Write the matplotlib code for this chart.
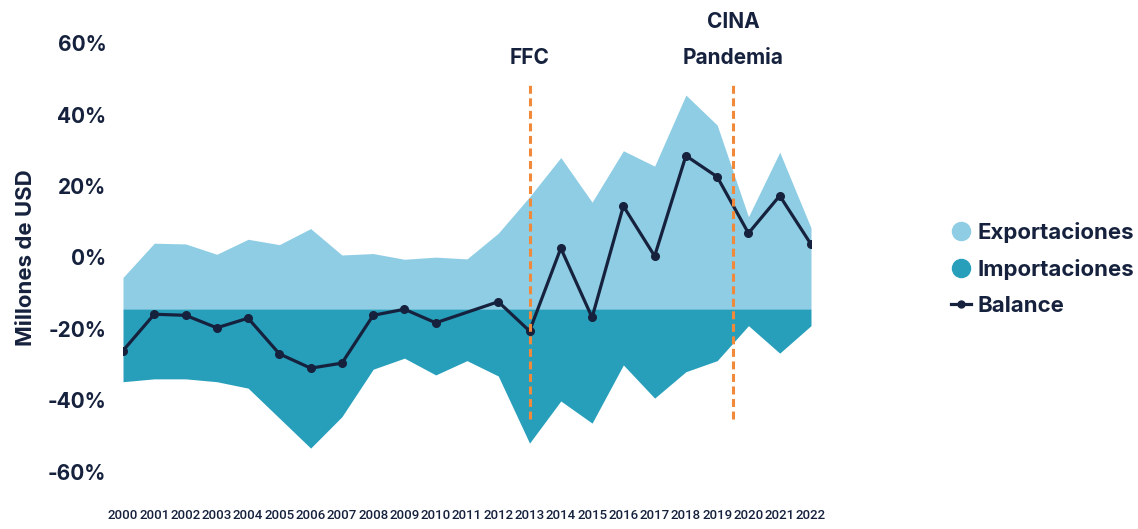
import numpy as np
import matplotlib.pyplot as plt
from matplotlib.lines import Line2D

# annual figures, % scale of the chart
years = list(range(2000, 2023))
exportaciones = [-5.6, 4.0, 3.8, 0.9, 5.1, 3.6, 8.1, 0.7, 1.1, -0.5, 0.1, -0.4, 6.8,
                 17.0, 28.0, 15.5, 29.9, 25.6, 45.5, 37.1, 11.4, 29.5, 8.3]
importaciones = [-34.8, -34.0, -34.0, -34.8, -36.6, -45.0, -53.4, -44.6, -31.3, -28.2, -32.9, -28.9, -33.2,
                 -52.0, -40.2, -46.4, -30.1, -39.4, -32.0, -28.9, -19.1, -26.8, -19.1]
balance = [-26.1, -15.9, -16.2, -19.7, -17.0, -27.0, -31.0, -29.6, -16.2, -14.5, -18.3, None, -12.4,
           -20.6, 2.6, -16.8, 14.4, 0.4, 28.5, 22.6, 6.8, 17.3, 3.7]
base = -14.4

eventos = [(2013, ['FFC']), (2019.5, ['CINA', 'Pandemia'])]

c_exp = '#8ECDE4'
c_imp = '#279FBB'
navy = '#16223D'
orange = '#F0893A'

plt.rcParams['font.family'] = ['Inter', 'DejaVu Sans']

fig = plt.figure(figsize=(11.38, 5.29), dpi=100)
ax = fig.add_axes([123 / 1138, 0.0949, (811 - 123) / 1138, 0.8367])

x = np.array(years)
ax.fill_between(x, base, exportaciones, color=c_exp, lw=0)
ax.fill_between(x, importaciones, base, color=c_imp, lw=0)

# balance line skips the missing year
bx = [y for y, b in zip(years, balance) if b is not None]
by = [b for b in balance if b is not None]
ax.plot(bx, by, color=navy, lw=2.3, marker='o', markersize=5.5, zorder=3)

for xe, labels in eventos:
    ax.plot([xe, xe], [-45.2, 48.9], color=orange, lw=2.2, linestyle=(0, (2.6, 1.5)), zorder=4)
    for i, t in enumerate(reversed(labels)):
        ax.text(xe, 55.9 + i * 10.1, t, ha='center', va='center', fontsize=15,
                fontweight='bold', color=navy)

ax.set_xlim(2000, 2022)
ax.set_ylim(-62, 62)
ax.set_yticks([-60, -40, -20, 0, 20, 40, 60])
ax.set_yticklabels(['-60%', '-40%', '-20%', '0%', '20%', '40%', '60%'],
                   fontsize=15, fontweight='bold', color=navy)
ax.set_xticks(years)
ax.set_xticklabels([str(y) for y in years], fontsize=9.5, color=navy,
                   family=['Roboto', 'DejaVu Sans'], fontweight='medium')
ax.tick_params(axis='y', length=0, pad=12)
ax.tick_params(axis='x', length=0, pad=22)
for s in ax.spines.values():
    s.set_visible(False)
ax.set_ylabel('Millones de USD', fontsize=16, fontweight='bold', color=navy, labelpad=8)

handles = [
    Line2D([], [], color=c_exp, marker='o', lw=0, markersize=13),
    Line2D([], [], color=c_imp, marker='o', lw=0, markersize=13),
    Line2D([], [], color=navy, marker='o', lw=2.3, markersize=5),
]
leg = fig.legend(handles, ['Exportaciones', 'Importaciones', 'Balance'],
                 loc='center left', bbox_to_anchor=(0.818, 0.4915), frameon=False,
                 handlelength=0.9, handletextpad=0.3, labelspacing=0.72,
                 prop={'size': 16, 'weight': 'bold'})
for t in leg.get_texts():
    t.set_color(navy)

fig.savefig('out.png', dpi=100)
